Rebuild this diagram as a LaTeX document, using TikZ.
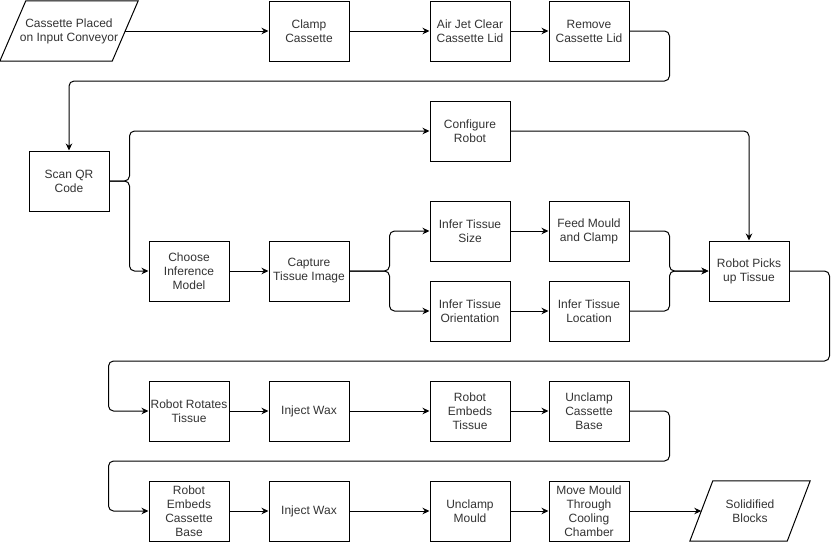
\documentclass[tikz,border=0pt]{standalone}
\usepackage{fontspec}
\setmainfont{Liberation Sans}
\usetikzlibrary{arrows.meta}
\tikzset{
  proc/.style={draw, line width=1pt, minimum width=80pt, minimum height=60pt,
    align=center, inner sep=1pt, text=black!80, font=\fontsize{12}{14}\selectfont},
  io/.style={minimum width=#1, minimum height=60pt, align=center, inner sep=0pt,
    text=black!80, font=\fontsize{12}{14}\selectfont},
  flow/.style={-{Stealth[length=7pt,width=6.5pt]}, line width=1pt, rounded corners=5pt},
}

\begin{document}
\begin{tikzpicture}[x=1pt,y=-1pt]
\useasboundingbox (0,0) rectangle (840,542);
\node[io=112pt] (start) at ( 69,31) {Cassette Placed\\on Input Conveyor};
\draw[line width=1pt] ([xshift=13pt]start.north west) -- ([xshift=13pt]start.north east)
  -- ([xshift=-13pt]start.south east) -- ([xshift=-13pt]start.south west) -- cycle;
\node[proc] (clamp)    at (309,31)  {Clamp\\Cassette};
\node[proc] (airjet)   at (470,31)  {Air Jet Clear\\Cassette Lid};
\node[proc] (lid)      at (589,31)  {Remove\\Cassette Lid};
\node[proc] (scan)     at ( 69,181) {Scan QR\\Code};
\node[proc] (config)   at (470,131) {Configure\\Robot};
\node[proc] (model)    at (189,271) {Choose\\Inference\\Model};
\node[proc] (capture)  at (309,271) {Capture\\Tissue Image};
\node[proc] (size)     at (470,231) {Infer Tissue\\Size};
\node[proc] (feed)     at (589,231) {Feed Mould\\and Clamp};
\node[proc] (orient)   at (470,311) {Infer Tissue\\Orientation};
\node[proc] (locate)   at (589,311) {Infer Tissue\\Location};
\node[proc] (pick)     at (749,271) {Robot Picks\\up Tissue};
\node[proc] (rotate)   at (189,411) {Robot Rotates\\Tissue};
\node[proc] (wax)      at (309,411) {Inject Wax};
\node[proc] (embed)    at (470,411) {Robot\\Embeds\\Tissue};
\node[proc] (unclampb) at (589,411) {Unclamp\\Cassette\\Base};
\node[proc] (embedb)   at (189,511) {Robot\\Embeds\\Cassette\\Base};
\node[proc] (waxb)     at (309,511) {Inject Wax};
\node[proc] (unmould)  at (470,511) {Unclamp\\Mould};
\node[proc] (cool)     at (589,511) {Move Mould\\Through\\Cooling\\Chamber};
\node[io=97pt] (blocks) at (750,511) {Solidified\\Blocks};
\draw[line width=1pt] ([xshift=11.5pt]blocks.north west) -- ([xshift=11.5pt]blocks.north east)
  -- ([xshift=-11.5pt]blocks.south east) -- ([xshift=-11.5pt]blocks.south west) -- cycle;

\foreach \a/\b in {start/clamp, clamp/airjet, airjet/lid, model/capture,
  size/feed, orient/locate, rotate/wax, wax/embed, embed/unclampb,
  embedb/waxb, waxb/unmould, unmould/cool, cool/blocks}
{   \draw[flow] (\a.east) -- (\b.west);
}
\draw[flow] (lid.east) -| ++(40,50) -| (scan.north);
\draw[flow] (scan.east) -- ++(20,0) |- (config.west);
\draw[flow] (scan.east) -- ++(20,0) |- (model.west);
\draw[flow] (config.east) -| (pick.north);
\draw[flow] (capture.east) -- ++(40,0) |- (size.west);
\draw[flow] (capture.east) -- ++(40,0) |- (orient.west);
\draw[flow] (feed.east) -- ++(40,0) |- (pick.west);
\draw[flow] (locate.east) -- ++(40,0) |- (pick.west);
\draw[flow] (pick.east) -| ++(40,90) -| ([xshift=-40pt]rotate.west) -- (rotate.west);
\draw[flow] (unclampb.east) -| ++(40,50) -| ([xshift=-40pt]embedb.west) -- (embedb.west);
\end{tikzpicture}
\end{document}
